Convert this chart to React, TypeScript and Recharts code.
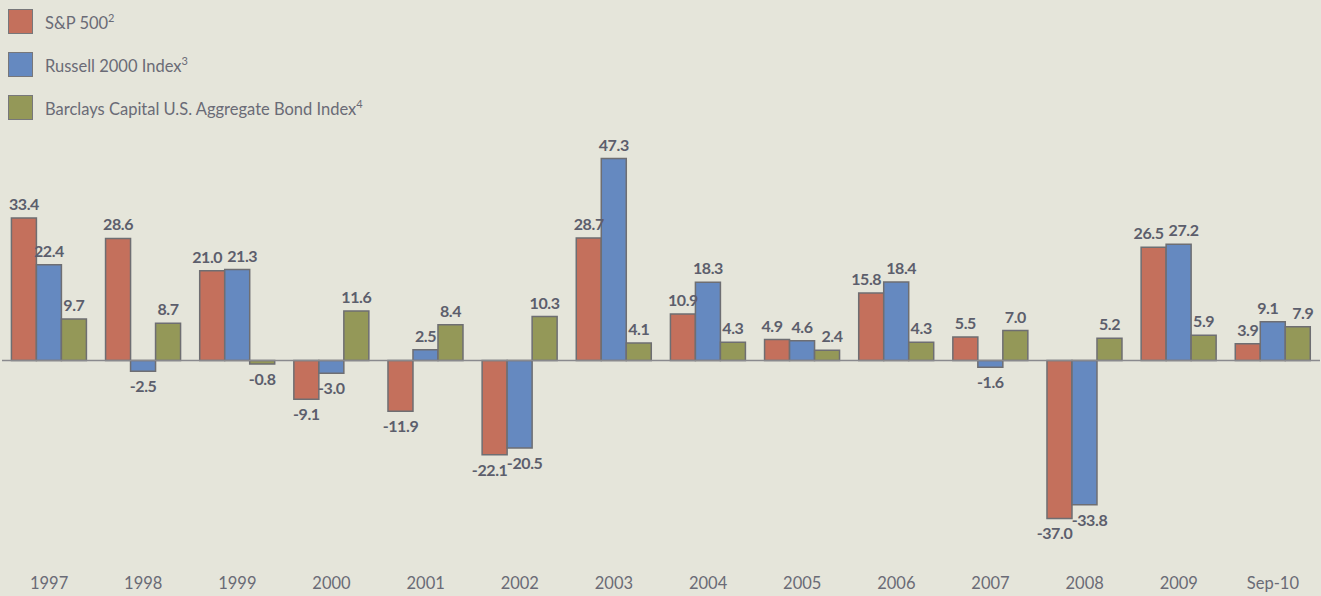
import React from 'react';
import { BarChart, Bar, XAxis, YAxis, ReferenceLine, LabelList } from 'recharts';

const years = ['1997', '1998', '1999', '2000', '2001', '2002', '2003', '2004', '2005', '2006', '2007', '2008', '2009', 'Sep-10'];
const sp500 = [33.4, 28.6, 21.0, -9.1, -11.9, -22.1, 28.7, 10.9, 4.9, 15.8, 5.5, -37.0, 26.5, 3.9];
const russell = [22.4, -2.5, 21.3, -3.0, 2.5, -20.5, 47.3, 18.3, 4.6, 18.4, -1.6, -33.8, 27.2, 9.1];
const barclays = [9.7, 8.7, -0.8, 11.6, 8.4, 10.3, 4.1, 4.3, 2.4, 4.3, 7.0, 5.2, 5.9, 7.9];

const series = [
    { key: 'sp', name: 'S&P 500', sup: '2', color: '#C4705C', values: sp500 },
    { key: 'russell', name: 'Russell 2000 Index', sup: '3', color: '#6589C0', values: russell },
    { key: 'barclays', name: 'Barclays Capital U.S. Aggregate Bond Index', sup: '4', color: '#949858', values: barclays },
];

const data = years.map((year, i) => ({
    year,
    sp: sp500[i],
    russell: russell[i],
    barclays: barclays[i],
}));

const FONT = 'Lato, "Open Sans", sans-serif';
const PX_PER_UNIT = 4.27;

// labels of neighbouring bars that sit at about the same height get pushed apart
const clash = (a: number, b: number) => Math.sign(a) === Math.sign(b) && Math.abs(a - b) * PX_PER_UNIT < 20;

const makeLabel = (si: number) => (props: any) => {
    const { x, y, width, height, value, index } = props;
    const top = Math.min(y, y + height);
    const bottom = Math.max(y, y + height);
    const ty = value >= 0 ? top - 8 : bottom + 21;
    let dx = 0;
    const left = si > 0 ? series[si - 1].values[index] : null;
    const right = si < series.length - 1 ? series[si + 1].values[index] : null;
    if (left !== null && clash(left, value)) dx += 5;
    if (right !== null && clash(right, value)) dx -= 5;
    return (
        <text x={x + width / 2 + dx} y={ty} textAnchor="middle" fontFamily={FONT} fontSize={16} fontWeight={700} letterSpacing={-0.4} fill="#5c5e6c">
            {value.toFixed(1)}
        </text>
    );
};

const LegendBox = () => (
    <div style={{ position: 'absolute', left: 8, top: 0, fontFamily: FONT, fontSize: 16.5, color: '#6a6b76' }}>
        {series.map((s) => (
            <div key={s.key} style={{ display: 'flex', alignItems: 'center', height: 43 }}>
                <span style={{ display: 'inline-block', width: 23, height: 23, background: s.color, border: '1.5px solid #77777a', marginRight: 12 }} />
                <span>
                    {s.name}
                    <sup style={{ fontSize: 11 }}>{s.sup}</sup>
                </span>
            </div>
        ))}
    </div>
);

export default function App() {
    return (
        <div style={{ position: 'absolute', left: 0, top: 0, width: 1321, height: 596, background: '#E5E5DA' }}>
            <BarChart width={1321} height={596} data={data} margin={{ top: 147, right: 1, left: 2, bottom: 0 }} barCategoryGap="10%" barGap={0}>
                <XAxis dataKey="year" axisLine={false} tickLine={false} height={22} tick={{ fontFamily: FONT, fontSize: 16.5, fill: '#6a6b76' }} tickMargin={-3} interval={0} />
                <YAxis hide domain={[-50, 50]} />
                <ReferenceLine y={0} stroke="#8a8a8e" strokeWidth={1.5} />
                {series.map((s, si) => (
                    <Bar key={s.key} dataKey={s.key} name={s.name} fill={s.color} stroke="#6e6e72" strokeWidth={1.5} isAnimationActive={false}>
                        <LabelList dataKey={s.key} content={makeLabel(si)} />
                    </Bar>
                ))}
            </BarChart>
            <LegendBox />
        </div>
    );
}
